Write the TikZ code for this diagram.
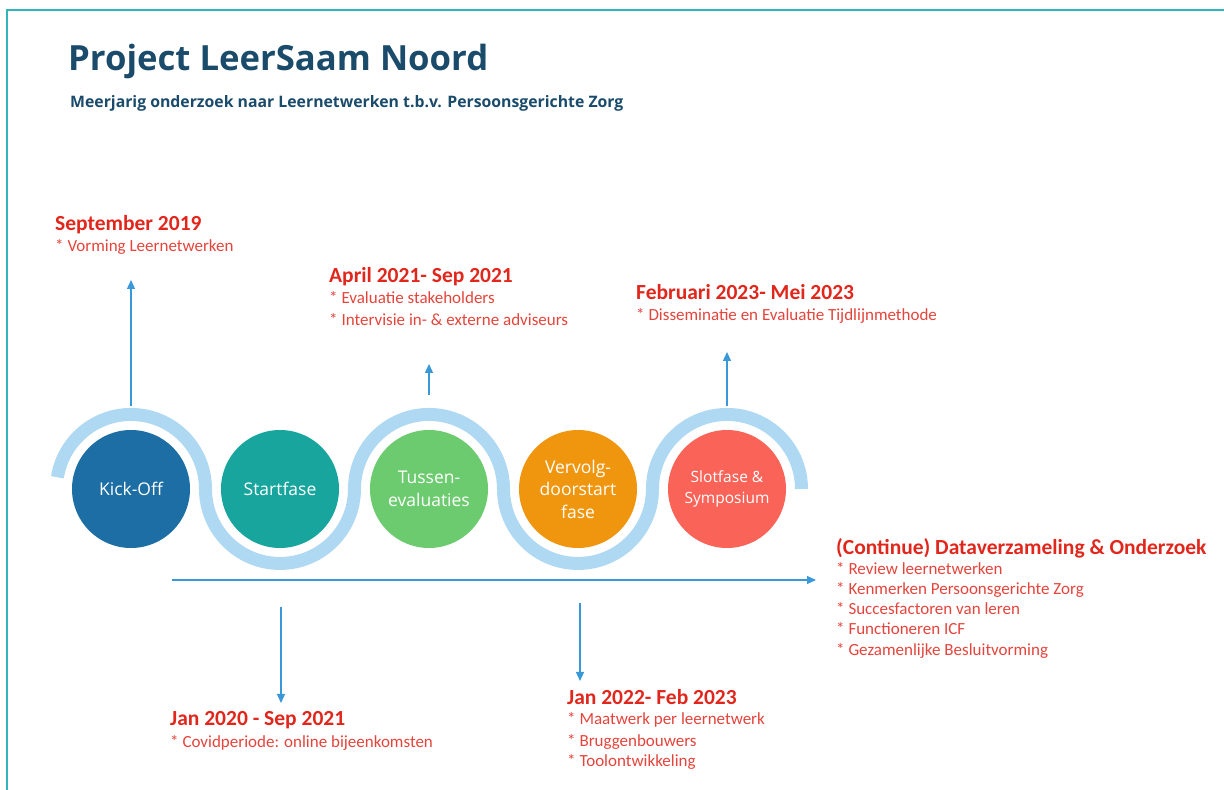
\documentclass[tikz,border=0pt]{standalone}
\usepackage{fontspec}
\setmainfont{Carlito}
\newfontfamily\headfont{Open Sans}
\usetikzlibrary{arrows.meta}

\definecolor{framec}{HTML}{30B5BC}
\definecolor{titlec}{HTML}{1B4B6B}
\definecolor{wavec}{HTML}{AFD9F2}
\definecolor{arrowc}{HTML}{3898D8}
\definecolor{redhd}{HTML}{E1261C}
\definecolor{redbl}{HTML}{E4443B}
\definecolor{kickc}{HTML}{1C6EA4}
\definecolor{startc}{HTML}{17A59E}
\definecolor{tussenc}{HTML}{6DCB6F}
\definecolor{vervolgc}{HTML}{F0960E}
\definecolor{slotc}{HTML}{FA6358}

\tikzset{
  phase/.style={circle, minimum size=118pt, inner sep=0pt, text=white,
    align=center, font=\headfont\fontsize{17.5}{22.5}\selectfont},
  arr/.style={arrowc, line width=1.3pt, -{Triangle[width=8pt,length=9pt]}},
  hd/.style={anchor=base west, inner sep=0pt, text=redhd,
    font=\bfseries\fontsize{21.5}{24}\selectfont},
  bl/.style={anchor=base west, inner sep=0pt, text=redbl,
    font=\fontsize{17}{20}\selectfont},
}

\begin{document}
\begin{tikzpicture}[x=1pt,y=1pt]
\useasboundingbox (0,0) rectangle (1224,790);

% frame lines
\draw[framec, line width=1.5pt] (7,0) -- (7,780) -- (1224,780);

% title and subtitle
\node[anchor=base west, inner sep=0pt, text=titlec,
      font=\headfont\bfseries\fontsize{34.7}{42}\selectfont] (title) at (68,719) {Project LeerSaam Noord};
\node[anchor=base west, inner sep=0pt, text=titlec,
      font=\headfont\bfseries\fontsize{15.8}{19}\selectfont] (subtitle) at (70,682) {Meerjarig onderzoek naar Leernetwerken t.b.v. Persoonsgerichte Zorg};

% wave band behind the phases
\draw[wavec, line width=13pt]
  (57.4,312.7) arc[start angle=171, end angle=0, radius=74.5]
  arc[start angle=180, end angle=360, radius=74.5]
  arc[start angle=180, end angle=0, radius=74.5]
  arc[start angle=180, end angle=360, radius=74.5]
  arc[start angle=180, end angle=0, radius=74.5];

% phases
\node[phase, fill=kickc] (kick) at (131,301) {Kick-Off};
\node[phase, fill=startc] (start) at (280,301) {Startfase};
\node[phase, fill=tussenc] (tussen) at (429,301) {Tussen-\\evaluaties};
\node[phase, fill=vervolgc] (vervolg) at (578,301) {Vervolg-\\doorstart\\fase};
\node[phase, fill=slotc, font=\headfont\fontsize{15.5}{21}\selectfont] (slot) at (727,301) {Slotfase \&\\Symposium};

% arrow end points
\coordinate (kickA) at (131,384);
\coordinate (kickB) at (131,510);
\coordinate (tusA) at (429,395);
\coordinate (tusB) at (429,426);
\coordinate (slotA) at (727,384);
\coordinate (slotB) at (727,438);
\coordinate (lineA) at (172,210);
\coordinate (lineB) at (816,210);
\coordinate (covA) at (281,183);
\coordinate (covB) at (281,87);
\coordinate (maatA) at (580,187);
\coordinate (maatB) at (580,109);

\draw[arr] (kickA) -- (kickB);
\draw[arr] (tusA) -- (tusB);
\draw[arr] (slotA) -- (slotB);
\draw[arr] (lineA) -- (lineB);
\draw[arr] (covA) -- (covB);
\draw[arr] (maatA) -- (maatB);

% milestone texts
\node[hd] (sep) at (55,559) {September 2019};
\node[bl] (sep1) at (55,538) {* Vorming Leernetwerken};

\node[hd] (apr) at (329,507) {April 2021- Sep 2021};
\node[bl] (apr1) at (329,486) {* Evaluatie stakeholders};
\node[bl] (apr2) at (329,464) {* Intervisie in- \& externe adviseurs};

\node[hd] (feb) at (636,490) {Februari 2023- Mei 2023};
\node[bl] (feb1) at (636,469) {* Disseminatie en Evaluatie Tijdlijnmethode};

\node[hd] (cont) at (836,235) {(Continue) Dataverzameling \& Onderzoek};
\node[bl] (cont1) at (836,215) {* Review leernetwerken};
\node[bl] (cont2) at (836,195) {* Kenmerken Persoonsgerichte Zorg};
\node[bl] (cont3) at (836,175) {* Succesfactoren van leren};
\node[bl] (cont4) at (836,155) {* Functioneren ICF};
\node[bl] (cont5) at (836,134) {* Gezamenlijke Besluitvorming};

\node[hd] (jan20) at (170,64) {Jan 2020 - Sep 2021};
\node[bl] (jan201) at (170,42) {* Covidperiode: online bijeenkomsten};

\node[hd] (jan22) at (567,85) {Jan 2022- Feb 2023};
\node[bl] (jan221) at (567,65) {* Maatwerk per leernetwerk};
\node[bl] (jan222) at (567,43) {* Bruggenbouwers};
\node[bl] (jan223) at (567,23) {* Toolontwikkeling};
\end{tikzpicture}
\end{document}
